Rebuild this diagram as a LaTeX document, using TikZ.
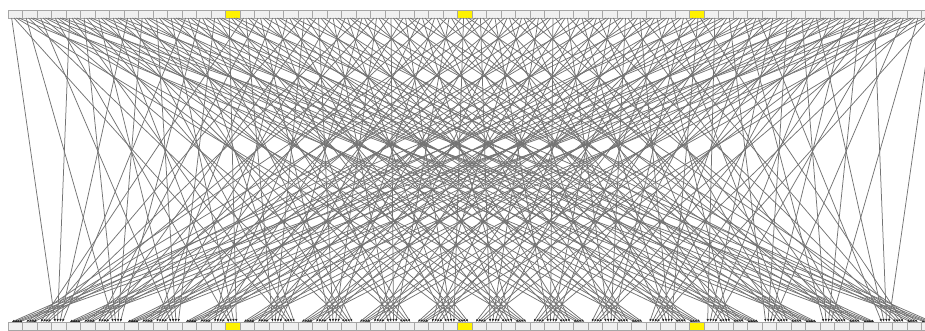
\documentclass[tikz,border=0pt]{standalone}
\usepackage{tikz}
\usetikzlibrary{arrows.meta}
\begin{document}
\begin{tikzpicture}[x=1pt,y=1pt,
  cell/.style={draw=gray!70, fill=gray!12, line width=0.6pt, minimum width=14.5pt,
               minimum height=8pt, inner sep=0pt, outer sep=0pt},
  wire/.style={draw=black!55, line width=0.75pt,
               -{Latex[length=3pt,width=2.4pt,color=black!85]}}]
\path[use as bounding box, clip] (0,0) rectangle (925,330);
% top and bottom rows
\foreach \i in {0,...,63}{
  \pgfmathtruncatemacro\hot{(\i==15)||(\i==31)||(\i==47)}
  \ifnum\hot=1 \def\fc{yellow}\else\def\fc{gray!12}\fi
  \node[cell,fill=\fc] (t\i) at ({15.25+14.5*\i},316) {};
  \node[cell,fill=\fc] (b\i) at ({15.25+14.5*\i},4) {};
}
% wires: a=(p,u,c) in base 4 goes to (v,c,3-p)
\foreach \p in {0,...,3}
 \foreach \u in {0,...,3}
  \foreach \c in {0,...,3}
   \foreach \v in {0,...,3}{
     \pgfmathtruncatemacro\a{16*\p+4*\u+\c}
     \pgfmathtruncatemacro\b{16*\v+4*\c+3-\p}
     \draw[wire] ([xshift={(\v-1.5)*2.4}]t\a.south) -- ([xshift={(\u-1.5)*2.4}]b\b.north);
   }
\end{tikzpicture}
\end{document}
